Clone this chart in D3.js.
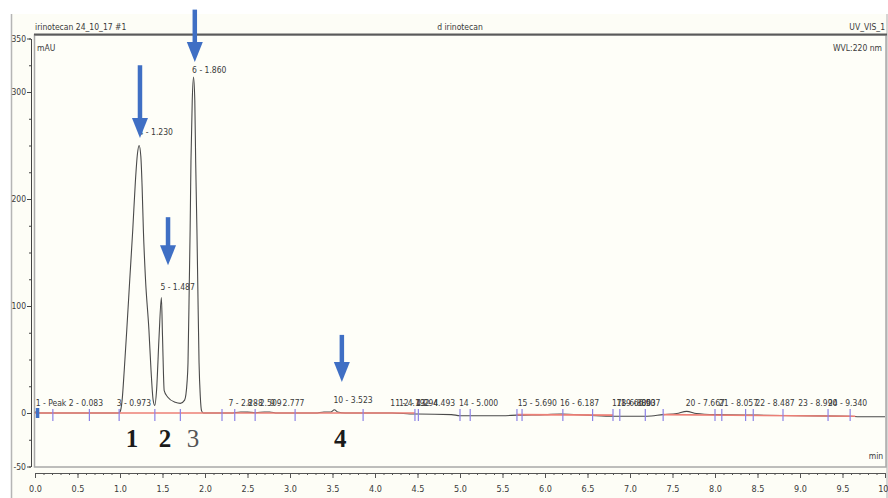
<!DOCTYPE html>
<html>
<head>
<meta charset="utf-8">
<script src="https://cdn.jsdelivr.net/npm/d3@7"></script>
<style>
  body { margin: 0; background: #fff; }
  svg { display: block; }
  .lbl { font-family: "Liberation Sans Narrow", "Arial Narrow", "DejaVu Sans Condensed", sans-serif; fill: #3a3a3a; }
</style>
</head>
<body>
<svg id="chart" width="888" height="498"></svg>
<script>
// chromatogram trace (min / mAU)
var traceTime = [0.00, 0.02, 0.04, 0.50, 0.98, 1.00, 1.025, 1.05, 1.08, 1.115, 1.15, 1.18, 1.205, 1.225, 1.245, 1.26, 1.275, 1.30, 1.34, 1.365, 1.39, 1.41,
  1.43, 1.46, 1.487, 1.50, 1.52, 1.56, 1.65, 1.71, 1.76, 1.79, 1.80, 1.815, 1.825, 1.835, 1.85, 1.865, 1.88, 1.89, 1.905, 1.915, 1.93, 1.945, 1.96, 1.98,
  2.30, 2.42, 2.50, 2.60, 2.70, 2.76, 2.85, 3.30, 3.40, 3.48, 3.523, 3.56, 3.65, 4.20, 4.47, 4.50, 4.90, 5.00, 5.50, 5.67, 6.00, 6.19, 6.50, 6.80,
  7.20, 7.39, 7.55, 7.667, 7.78, 8.00, 8.50, 9.00, 9.59, 9.70, 10.00];
var traceMAU = [0, 1.5, 0, 0, 0, 1, 12, 40, 78, 125, 171, 215, 242, 250, 240, 212, 171, 125, 78, 40, 12, 7,
  21, 72, 108, 72, 21, 15, 10, 9, 12, 30, 47, 120, 171, 236, 292, 314, 292, 236, 171, 120, 47, 15, 2, 0,
  0, 1, 0.8, 0.3, 1, 1, 0, 0, 1, 1, 3, 1, 0, 0, -1, -1, -1.5, -2.5, -2.5, -2, -1.5, -1, -2, -3,
  -3, -1.5, -0.5, 1.5, -0.5, -1.5, -2, -2.5, -3, -3.5, -3.5];

// integration baseline segments (red)
var baseT0 = [0.00, 5.67, 7.39];
var baseV0 = [0, -1.5, -1.5];
var baseT1 = [4.47, 6.80, 9.65];
var baseV1 = [0, -2, -3];

// peak delimiter marks
var delimT = [0.21, 0.64, 0.99, 1.41, 1.71, 2.20, 2.35, 2.59, 3.06, 3.86, 4.47, 4.51, 5.00, 5.12, 5.67, 5.73,
  6.21, 6.56, 6.80, 6.88, 7.18, 7.39, 8.00, 8.08, 8.36, 8.45, 8.80, 9.33, 9.59];
var startMarkT = [0.03];

// peak labels
var peakText = ["1 - Peak 2 - 0.083", "3 - 0.973", "4 - 1.230", "5 - 1.487", "6 - 1.860", "7 - 2.288", "8 - 2.509", "9 - 2.777",
  "10 - 3.523", "11 - 4.192", "12 - 4.294", "13 - 4.493", "14 - 5.000", "15 - 5.690", "16 - 6.187", "17 - 6.800", "18 - 6.853",
  "19 - 6.907", "20 - 7.667", "21 - 8.057", "22 - 8.487", "23 - 8.990", "24 - 9.340"];
var peakLabelT = [0.02, 0.973, 1.230, 1.487, 1.860, 2.288, 2.509, 2.777, 3.523, 4.192, 4.294, 4.493, 5.000, 5.690, 6.187,
  6.800, 6.853, 6.907, 7.667, 8.057, 8.487, 8.990, 9.340];
var peakLabelV = [4, 4, 257, 112, 315, 4, 4, 4, 6.5, 4, 4, 4, 4, 4, 4, 4, 4, 4, 4, 4, 4, 4, 4];

// blue arrows pointing at the compounds
var arrowT = [1.235, 1.565, 1.88, 3.61];
var arrowTopV = [325, 183, 377, 73];
var arrowTipV = [257, 138, 328, 29];

// big numbers under the peaks
var numText = ["1", "2", "3", "4"];
var numT = [1.14, 1.53, 1.86, 3.59];
var numV = [-32, -32, -32, -32];

var yTicks = [350, 300, 200, 100, 0, -50];
var yMinor = d3.range(-50, 351, 25);
var xTicks = d3.range(0, 10.01, 0.5);
var xMinor = d3.range(0, 10.001, 0.1);

var svg = d3.select("#chart");

var x = d3.scaleLinear().domain([0, 10]).range([35, 885]);
var y = d3.scaleLinear().domain([-50, 350]).range([466.5, 38.5]);

// background
svg.append("rect").attr("x", 0).attr("y", 0).attr("width", 888).attr("height", 498).attr("fill", "#fff");
svg.append("rect").attr("x", 11).attr("y", 14).attr("width", 877).attr("height", 484).attr("fill", "#fdfdf6");
svg.append("line").attr("x1", 11.5).attr("x2", 11.5).attr("y1", 14).attr("y2", 498)
  .attr("stroke", "#b5b5b5").attr("stroke-width", 1.5);
svg.append("line").attr("x1", 887).attr("x2", 887).attr("y1", 14).attr("y2", 498)
  .attr("stroke", "#c8c8c8").attr("stroke-width", 1.5);

// plot box
svg.append("rect").attr("x", 34.5).attr("y", 35).attr("width", 851.5).attr("height", 432)
  .attr("fill", "#fefef8").attr("stroke", "#a8a8a8").attr("stroke-width", 1.5);
svg.append("line").attr("x1", 34).attr("x2", 887).attr("y1", 34.5).attr("y2", 34.5)
  .attr("stroke", "#5a5a5a").attr("stroke-width", 2.2);

// y axis
var yMinorAxis = d3.axisLeft(y).tickValues(yMinor).tickSize(2).tickSizeOuter(0).tickFormat("");
svg.append("g").attr("transform", "translate(31,0)").call(yMinorAxis)
  .call(function (g) { g.selectAll("line,path").attr("stroke", "#444"); });
var yAxis = d3.axisLeft(y).tickValues(yTicks).tickSize(4).tickSizeOuter(0).tickPadding(1)
  .tickFormat(function (d) { return d; });
svg.append("g").attr("transform", "translate(31,0)").call(yAxis)
  .call(function (g) {
    g.select(".domain").attr("stroke", "#444");
    g.selectAll(".tick line").attr("stroke", "#444");
    g.selectAll(".tick text").attr("class", "lbl").attr("font-size", 8.5).attr("fill", "#555");
  });

// x axis
var xMinorAxis = d3.axisBottom(x).tickValues(xMinor).tickSize(2).tickSizeOuter(0).tickFormat("");
svg.append("g").attr("transform", "translate(0,473)").call(xMinorAxis)
  .call(function (g) { g.selectAll("line,path").attr("stroke", "#555"); });
var xAxis = d3.axisBottom(x).tickValues(xTicks).tickSize(5).tickSizeOuter(0).tickPadding(8)
  .tickFormat(function (d) { return d === 10 ? "10" : d3.format(".1f")(d); });
svg.append("g").attr("transform", "translate(0,473)").call(xAxis)
  .call(function (g) {
    g.select(".domain").attr("stroke", "#555");
    g.selectAll(".tick line").attr("stroke", "#555");
    g.selectAll(".tick text").attr("class", "lbl").attr("font-size", 9).attr("fill", "#555")
      .filter(function (d) { return d === 10; })
      .attr("text-anchor", "end").attr("dx", 3);
  });

// trace
var traceData = traceTime.map(function (t, i) { return [t, traceMAU[i]]; });
var line = d3.line()
  .x(function (d) { return x(d[0]); })
  .y(function (d) { return y(d[1]); })
  .curve(d3.curveMonotoneX);
svg.append("path").datum(traceData).attr("d", line)
  .attr("fill", "none").attr("stroke", "#4a4a4a").attr("stroke-width", 1.1);

// red baseline
svg.append("g").selectAll("line").data(baseT0).enter().append("line")
  .attr("x1", function (d) { return x(d); })
  .attr("y1", function (d, i) { return y(baseV0[i]); })
  .attr("x2", function (d, i) { return x(baseT1[i]); })
  .attr("y2", function (d, i) { return y(baseV1[i]); })
  .attr("stroke", "#ec7f76").attr("stroke-width", 1.6);

// delimiters
svg.append("g").selectAll("line").data(delimT).enter().append("line")
  .attr("x1", function (d) { return x(d); }).attr("x2", function (d) { return x(d); })
  .attr("y1", y(0) - 4).attr("y2", y(0) + 8)
  .attr("stroke", "#8c82e6").attr("stroke-width", 1.2);
svg.append("g").selectAll("line").data(startMarkT).enter().append("line")
  .attr("x1", function (d) { return x(d); }).attr("x2", function (d) { return x(d); })
  .attr("y1", y(0) - 5).attr("y2", y(0) + 5)
  .attr("stroke", "#3f6fc4").attr("stroke-width", 3.5);

// peak labels
svg.append("g").selectAll("text").data(peakText).enter().append("text")
  .attr("class", "lbl")
  .attr("x", function (d, i) { return x(peakLabelT[i]) - 1; })
  .attr("y", function (d, i) { return y(peakLabelV[i]) - 3; })
  .attr("font-size", 8.5)
  .text(function (d) { return d; });

// arrows
var arrowG = svg.append("g").selectAll("g").data(arrowT).enter().append("g");
arrowG.append("line")
  .attr("x1", function (d) { return x(d); }).attr("x2", function (d) { return x(d); })
  .attr("y1", function (d, i) { return y(arrowTopV[i]); })
  .attr("y2", function (d, i) { return y(arrowTipV[i]) - 15; })
  .attr("stroke", "#3f6fc4").attr("stroke-width", 4.5);
arrowG.append("path")
  .attr("d", function (d, i) {
    var cx = x(d), ty = y(arrowTipV[i]);
    return "M" + (cx - 8) + "," + (ty - 20) + "L" + (cx + 8) + "," + (ty - 20) + "L" + cx + "," + ty + "Z";
  })
  .attr("fill", "#3f6fc4");

// big numbers
svg.append("g").selectAll("text").data(numText).enter().append("text")
  .attr("x", function (d, i) { return x(numT[i]); })
  .attr("y", function (d, i) { return y(numV[i]); })
  .attr("text-anchor", "middle")
  .attr("font-family", "Liberation Serif, serif")
  .attr("font-size", 25)
  .attr("font-weight", function (d) { return d === "3" ? "normal" : "bold"; })
  .attr("fill", function (d) { return d === "3" ? "#555" : "#1a1a1a"; })
  .text(function (d) { return d; });

// header and units
function note(txt, px, py, anchor) {
  svg.append("text").attr("class", "lbl").attr("x", px).attr("y", py)
    .attr("text-anchor", anchor).attr("font-size", 8.5).text(txt);
}
note("irinotecan 24_10_17 #1", 35, 30, "start");
note("d irinotecan", 460, 30, "middle");
note("UV_VIS_1", 885, 30, "end");
note("mAU", 37, 51, "start");
note("WVL:220 nm", 882, 51, "end");
note("min", 876, 459, "middle");
</script>
</body>
</html>
